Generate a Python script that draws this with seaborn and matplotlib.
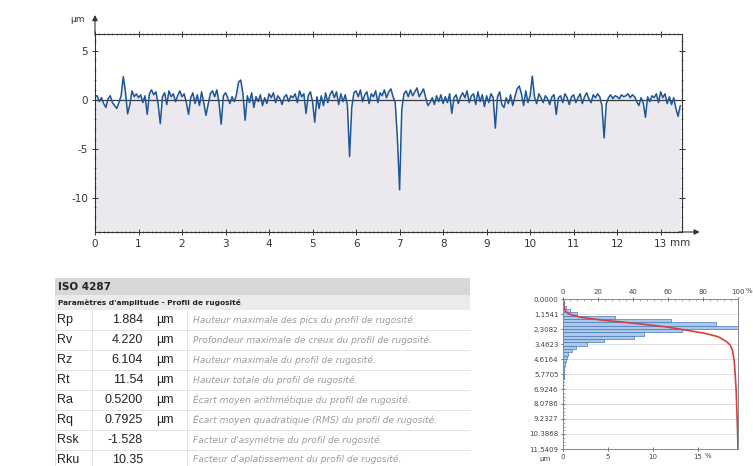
import numpy as np
import pandas as pd
import matplotlib
matplotlib.use("Agg")
import matplotlib.pyplot as plt
from matplotlib.patches import Rectangle
from matplotlib.ticker import MultipleLocator
import seaborn as sns

# ---------------- data ----------------
step_mm = 0.05
profile_um = [
    0.3, 0.4, -0.2, 0.2, -0.4, -0.8, 0.1, 0.4, -0.3, -0.6, -0.9, -0.3, 0.4, 2.35, 0.8, -1.45, -0.5, 0.9, 0.3, 0.6,
    0.2, 0.5, -0.3, 0.4, -1.5, 0.6, 1.0, 0.5, 0.8, -0.4, -2.45, 0.3, 0.7, -0.5, 0.9, 0.3, 0.6, -0.2, 0.4, 0.9,
    0.3, 0.6, -0.3, -1.5, 0.2, 0.7, -0.4, 0.5, -0.6, 0.8, -0.3, -1.6, -0.5, 0.6, 0.9, 0.3, 1.0, -0.3, -2.5, 0.4,
    0.7, 0.2, -0.4, 0.3, -0.2, 0.5, 1.8, 2.0, 0.6, -2.1, 0.4, -0.3, 0.7, -0.8, 0.3, -0.2, 0.5, -0.6, 0.2, -0.4,
    0.6, 0.2, 0.7, -0.3, 0.4, 0.1, -0.5, 0.3, 0.5, -0.2, 0.4, 0.2, 0.6, -0.3, 0.9, 0.3, 0.6, -1.4, 0.4, 0.8,
    -0.2, -2.3, 0.3, -0.9, 0.4, -0.6, 0.7, -0.3, 0.5, 0.9, 0.2, 0.8, -0.5, 0.6, -0.2, 0.5, -0.5, -5.8, -0.8, 0.7,
    0.9, 0.3, 1.0, -0.2, 0.5, 0.8, -0.4, 0.6, 0.3, 0.9, -0.3, 0.7, 0.4, 1.0, 0.2, 0.8, 1.1, 0.3, -0.3, -4.0,
    -9.2, -1.0, 0.6, 0.9, 0.3, 1.0, 0.4, 0.8, 1.2, 0.3, 0.7, 1.1, 0.2, -0.6, -0.3, 0.2, -0.5, 0.4, -0.2, 0.5,
    -0.4, 0.3, -0.3, 0.6, -1.4, 0.2, 0.5, -0.4, 0.3, 0.7, 0.2, 0.9, -0.3, 0.4, 0.6, -0.5, 0.8, -0.2, 0.5, -0.7,
    0.4, -0.3, 0.6, 0.2, -2.9, 0.3, 0.8, -0.5, -0.8, 0.2, -0.4, 0.5, -0.6, 0.3, 1.1, 1.4, 0.6, -0.6, 0.9, -0.3,
    0.4, 2.4, 0.3, -0.4, 0.6, 0.2, -0.3, 0.4, 0.1, -0.5, 0.3, 0.5, -1.5, 0.2, 0.4, -0.3, 0.6, 0.2, -0.5, 0.3,
    0.5, -0.3, 0.2, 0.6, -0.4, 0.3, 0.7, 0.1, -0.3, 0.5, 0.2, 0.6, 0.3, -0.6, -3.9, -0.4, 0.2, 0.5, 0.1, 0.4,
    0.3, 0.1, 0.5, 0.3, 0.4, 0.6, 0.2, 0.5, 0.3, -0.2, -0.6, 0.2, -0.3, -1.8, 0.3, -0.2, 0.4, 0.2, 0.6, -0.3,
    0.8, 0.2, 0.6, -0.4, 0.3, -0.5, 0.2, -0.9, -1.7, -0.6,
]
pos_mm = np.round(np.arange(len(profile_um)) * step_mm, 2)

x_ticks = list(range(14))
x_tick_labels = [str(v) for v in x_ticks]
y_ticks = [-10, -5, 0, 5]

param_names = ["Rp", "Rv", "Rz", "Rt", "Ra", "Rq", "Rsk", "Rku"]
param_values = ["1.884", "4.220", "6.104", "11.54", "0.5200", "0.7925", "-1.528", "10.35"]
param_units = ["µm", "µm", "µm", "µm", "µm", "µm", "", ""]
param_desc = [
    "Hauteur maximale des pics du profil de rugosité.",
    "Profondeur maximale de creux du profil de rugosité.",
    "Hauteur maximale du profil de rugosité.",
    "Hauteur totale du profil de rugosité.",
    "Écart moyen arithmétique du profil de rugosité.",
    "Écart moyen quadratique (RMS) du profil de rugosité.",
    "Facteur d'asymétrie du profil de rugosité.",
    "Facteur d'aplatissement du profil de rugosité.",
]
table_title = "ISO 4287"
table_subtitle = "Paramètres d'amplitude - Profil de rugosité"

depth_max = 11.5409
hist_pct = [0.1, 0.15, 0.3, 0.8, 1.55, 5.8, 12.0, 17.0, 19.45, 13.2, 9.0, 7.9, 4.6, 2.7, 1.4,
            1.0, 0.6, 0.45, 0.3, 0.2, 0.15, 0.1, 0.08, 0.06, 0.05, 0.04, 0.04, 0.03, 0.03, 0.03,
            0.02, 0.02, 0.02, 0.02, 0.02, 0.02, 0.01, 0.01, 0.01, 0.01, 0.01, 0.01, 0.01, 0.01, 0.01]
depth_ticks = [0.0, 1.1541, 2.3082, 3.4623, 4.6164, 5.7705, 6.9246, 8.0786, 9.2327, 10.3868, 11.5409]
depth_labels = ["0.0000", "1.1541", "2.3082", "3.4623", "4.6164", "5.7705", "6.9246",
                "8.0786", "9.2327", "10.3868", "11.5409"]
abbott_depth = [0, 0.3, 0.6, 0.9, 1.15, 1.4, 1.62, 1.87, 2.13, 2.39, 2.64, 2.9, 3.28, 3.54,
                3.9, 4.7, 5.8, 6.9, 8.0, 9.2, 10.4, 11.5409]
abbott_pct = [0, 0.3, 0.5, 1.2, 3.2, 10, 22, 41, 58, 70, 81, 88.6, 93.5, 95.5,
              96.8, 97.8, 98.4, 98.9, 99.2, 99.5, 99.8, 100]
hist_bottom_ticks = [0, 5, 10, 15]
hist_top_ticks = [0, 20, 40, 60, 80, 100]

# ---------------- style ----------------
sns.set_theme(style="white")
plt.rcParams["font.family"] = ["DejaVu Sans"]
plt.rcParams["axes.unicode_minus"] = False
W, H = 753, 466
fig = plt.figure(figsize=(W / 100, H / 100), dpi=100)

# table / background axes in pixel coordinates
tax = fig.add_axes([0, 0, 1, 1])
tax.set_xlim(0, W)
tax.set_ylim(H, 0)
tax.axis("off")

# ---------------- profile ----------------
ax = fig.add_axes([95 / W, 1 - 232 / H, 587 / W, 198 / H])
ymin, ymax = -13.5, 6.7
ax.fill_between(pos_mm, profile_um, ymin, color="#ebe9ee", lw=0, zorder=0)
ax.axhline(0, color="#3c3c3c", lw=0.9, zorder=1)
sns.lineplot(x=pos_mm, y=profile_um, ax=ax, color="#1d5598", lw=1.1,
             estimator=None, sort=False, zorder=2)
ax.set_xlim(0, 13.49)
ax.set_ylim(ymin, ymax)
ax.set_xticks(x_ticks)
ax.set_xticklabels(x_tick_labels)
ax.set_yticks(y_ticks)
ax.xaxis.set_minor_locator(MultipleLocator(0.1))
ax.yaxis.set_minor_locator(MultipleLocator(1))
ax.tick_params(which="major", direction="inout", length=4, width=0.7, color="#333333",
               top=True, right=True, bottom=True, left=True,
               labelsize=7.5, labelcolor="#333333", pad=3)
ax.tick_params(which="minor", direction="inout", length=2, width=0.5, color="#555555",
               top=True, right=True, bottom=True, left=True)
ax.set_xlabel("")
ax.set_ylabel("")
for s in ax.spines.values():
    s.set_color("#333333")
    s.set_linewidth(0.8)
ax.annotate("", xy=(0, 1.11), xytext=(0, 0.98), xycoords="axes fraction",
            arrowprops=dict(arrowstyle="-|>", color="#333333", lw=0.8, mutation_scale=8))
ax.annotate("", xy=(1.035, 0), xytext=(0.99, 0), xycoords="axes fraction",
            arrowprops=dict(arrowstyle="-|>", color="#333333", lw=0.8, mutation_scale=8))
tax.text(78, 20, "µm", fontsize=6.5, color="#333333", ha="center", va="center")
tax.text(670, 243, "mm", fontsize=7.5, color="#333333", ha="left", va="center")

# ---------------- table ----------------
tl, tr = 55, 470
tfont = ["Liberation Sans", "DejaVu Sans"]
tax.add_patch(Rectangle((tl, 278), tr - tl, 17, fc="#d7d7d7", ec="none"))
tax.add_patch(Rectangle((tl, 295), tr - tl, 15, fc="#ebebeb", ec="none"))
tax.text(58, 286.5, table_title, fontsize=7.5, fontweight="bold", color="#222222", va="center")
tax.text(58, 302.5, table_subtitle, fontsize=5.3, fontweight="bold", color="#222222", va="center")
row_h = 19.9
row0 = 310.5
for i, (n, v, u, d) in enumerate(zip(param_names, param_values, param_units, param_desc)):
    top = row0 + i * row_h
    cy = top + row_h / 2
    tax.plot([tl, tr], [top + row_h, top + row_h], color="#e2e2e2", lw=0.7)
    tax.text(57, cy, n, fontsize=9, color="#222222", va="center", family=tfont)
    tax.text(143, cy, v, fontsize=9, color="#222222", va="center", ha="right", family=tfont)
    tax.text(156, cy, u, fontsize=9, color="#222222", va="center", family=tfont)
    tax.text(193, cy, d, fontsize=6.6, style="italic", color="#9b9b9b", va="center")
tax.plot([92, 92], [row0, H], color="#e2e2e2", lw=0.7)
tax.plot([187, 187], [row0, H], color="#e2e2e2", lw=0.7)
tax.plot([tl, tl], [row0, H], color="#e2e2e2", lw=0.7)

# ---------------- histogram / Abbott curve ----------------
hax = fig.add_axes([563 / W, 1 - 449 / H, 175 / W, 150 / H])
bin_w = depth_max / len(hist_pct)
hist_df = pd.DataFrame({"depth": (np.arange(len(hist_pct)) + 0.5) * bin_w, "pct": hist_pct})
hax.set_axisbelow(True)
hax.yaxis.grid(True, color="#dadada", lw=0.6)
sns.histplot(data=hist_df, y="depth", weights="pct", binwidth=bin_w, binrange=(0, depth_max),
             ax=hax, color="#abc7ea", edgecolor="#4a7ab8", linewidth=0.5, alpha=1.0)
hax.set_ylim(depth_max, 0)
hax.set_xlim(0, 19.45)
hax.set_yticks(depth_ticks)
hax.set_yticklabels(depth_labels)
hax.set_xticks(hist_bottom_ticks)
hax.set_xticklabels([str(t) for t in hist_bottom_ticks])
hax.set_xlabel("")
hax.set_ylabel("")
hax.yaxis.set_minor_locator(MultipleLocator(depth_max / 40))
hax.tick_params(which="major", direction="inout", length=2.5, width=0.6, color="#555555",
                bottom=True, left=True, labelsize=5, labelcolor="#444444", pad=2)
hax.tick_params(which="minor", direction="in", length=1.5, width=0.4, color="#666666", left=True)
for s in hax.spines.values():
    s.set_color("#8a8a8a")
    s.set_linewidth(0.7)

tw = hax.twiny()
abbott_df = pd.DataFrame({"pct": abbott_pct, "depth": abbott_depth})
sns.lineplot(data=abbott_df, x="pct", y="depth", ax=tw, color="#d6403c", lw=1.2,
             estimator=None, sort=False)
tw.set_xlim(0, 100)
tw.set_ylim(depth_max, 0)
tw.set_xticks(hist_top_ticks)
tw.set_xticklabels([str(t) for t in hist_top_ticks])
tw.xaxis.set_minor_locator(MultipleLocator(4))
tw.tick_params(which="major", direction="inout", length=2.5, width=0.6, color="#555555",
               top=True, labelsize=5, labelcolor="#444444", pad=1.5)
tw.tick_params(which="minor", direction="in", length=1.5, width=0.4, color="#666666", top=True)
tw.set_xlabel("")
tw.set_ylabel("")
for s in tw.spines.values():
    s.set_color("#8a8a8a")
    s.set_linewidth(0.7)
tax.text(745.5, 291, "%", fontsize=5, color="#444444", va="center", ha="left")
tax.text(705, 456.5, "%", fontsize=5, color="#444444", va="center", ha="left")
tax.text(545, 459, "µm", fontsize=5, color="#444444", va="center", ha="center")

fig.savefig("out.png", dpi=100)
